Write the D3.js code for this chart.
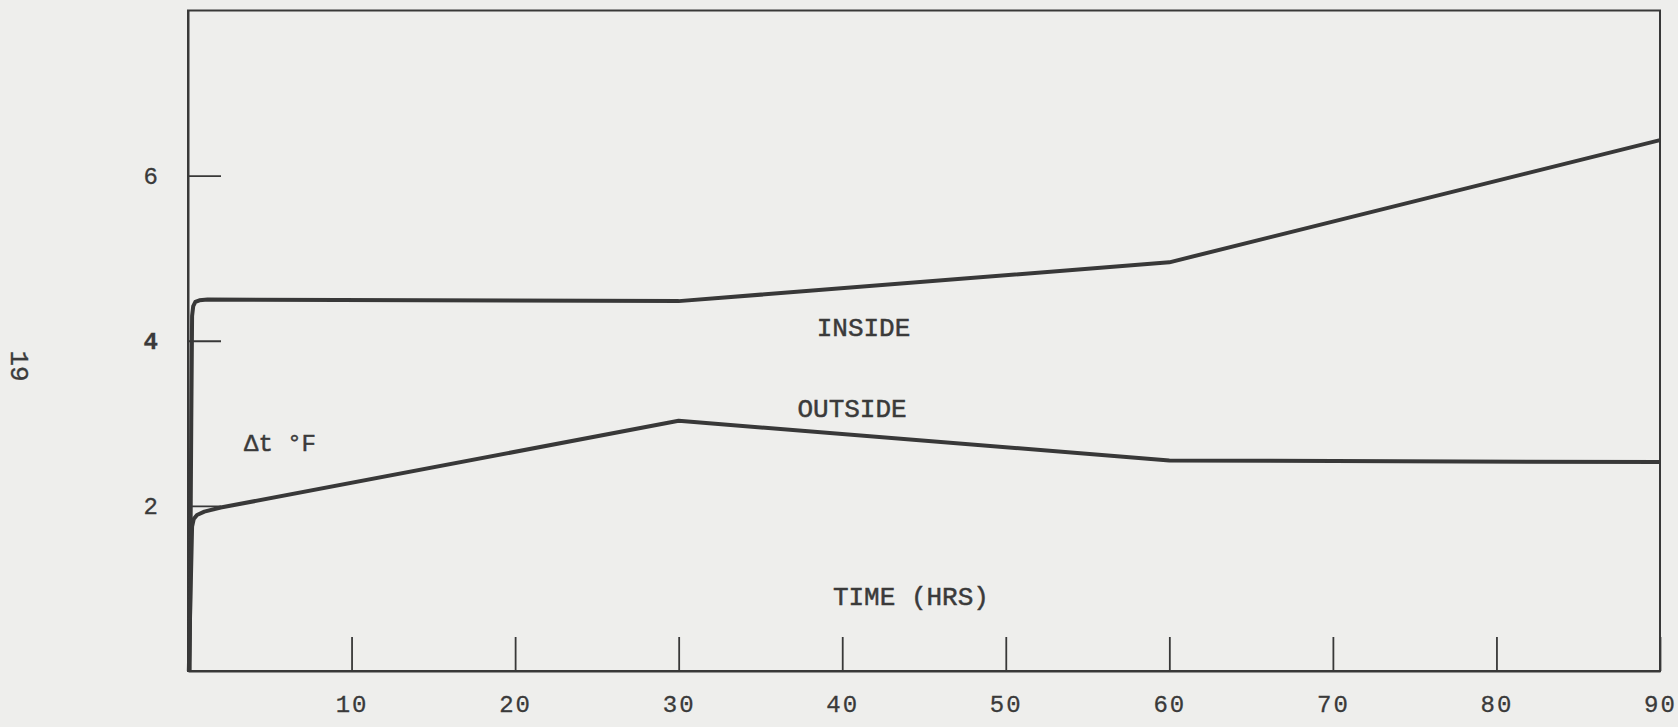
<!DOCTYPE html>
<html>
<head>
<meta charset="utf-8">
<script src="https://cdn.jsdelivr.net/npm/d3@7/dist/d3.min.js"></script>
<style>
  html, body { margin: 0; padding: 0; background: #eeeeec; }
  svg { display: block; }
  text { fill: #3a3a3a; font-family: "Liberation Mono", "DejaVu Sans Mono", monospace; }
</style>
</head>
<body>
<svg id="chart" width="1678" height="727"></svg>
<script>
// Temperature difference (°F) against elapsed time (hours)
const insideTime  = [0.1, 0.2, 0.25, 0.32, 0.45, 0.7, 1.2, 30, 60, 90];
const insideDelta = [0, 3.0, 4.3, 4.42, 4.47, 4.49, 4.50, 4.48, 4.95, 6.43];

const outsideTime  = [0.05, 0.25, 0.35, 0.55, 1.0, 2, 30, 60, 90];
const outsideDelta = [0, 1.75, 1.84, 1.89, 1.93, 1.98, 3.03, 2.55, 2.53];

const xTicks = [10, 20, 30, 40, 50, 60, 70, 80, 90];
const yTicks = [2, 4, 6];

const svg = d3.select("#chart");
const ink = "#383838";

const x = d3.scaleLinear().domain([0, 90]).range([188, 1660]);
const y = d3.scaleLinear().domain([0, 8]).range([671, 10.5]);

// plot frame
svg.append("rect")
  .attr("x", x(0)).attr("y", y(8))
  .attr("width", x(90) - x(0)).attr("height", y(0) - y(8))
  .attr("fill", "none").attr("stroke", ink).attr("stroke-width", 2);

// bottom axis: ticks point up into the plot
const xAxis = svg.append("g")
  .attr("transform", `translate(0,${y(0)})`)
  .call(d3.axisBottom(x).tickValues(xTicks).tickSize(-34).tickSizeOuter(0)
    .tickPadding(24).tickFormat(d3.format("d")));
xAxis.select(".domain").attr("stroke", ink).attr("stroke-width", 2);
xAxis.selectAll(".tick line").attr("stroke", ink).attr("stroke-width", 1.8);
xAxis.selectAll(".tick text")
  .attr("font-size", 24).attr("font-family", "Liberation Mono, monospace").attr("fill", "#3a3a3a")
  .attr("stroke", "#3a3a3a").attr("stroke-width", 0.3)
  .attr("letter-spacing", 2);

// left axis: ticks point right into the plot
const yAxis = svg.append("g")
  .attr("transform", `translate(${x(0)},0)`)
  .call(d3.axisLeft(y).tickValues(yTicks).tickSize(-33).tickSizeOuter(0)
    .tickPadding(30).tickFormat(d3.format("d")));
yAxis.select(".domain").attr("stroke", ink).attr("stroke-width", 2);
yAxis.selectAll(".tick line").attr("stroke", ink).attr("stroke-width", 1.8);
yAxis.selectAll(".tick text")
  .attr("font-size", 24).attr("font-family", "Liberation Mono, monospace").attr("fill", "#3a3a3a")
  .attr("stroke", "#3a3a3a").attr("stroke-width", 0.3)
  .attr("font-weight", d => d === 4 ? "bold" : "normal");

// data curves
const line = d3.line().x(d => x(d[0])).y(d => y(d[1]));
const insidePts = insideTime.map((t, i) => [t, insideDelta[i]]);
const outsidePts = outsideTime.map((t, i) => [t, outsideDelta[i]]);

svg.append("path").datum(insidePts).attr("d", line)
  .attr("fill", "none").attr("stroke", ink).attr("stroke-width", 4).attr("stroke-linejoin", "round");
svg.append("path").datum(outsidePts).attr("d", line)
  .attr("fill", "none").attr("stroke", ink).attr("stroke-width", 4).attr("stroke-linejoin", "round");

// labels
const label = (txt, px, py, size, anchor) => svg.append("text")
  .attr("x", px).attr("y", py).attr("font-size", size)
  .attr("stroke", "#3a3a3a").attr("stroke-width", 0.5)
  .attr("text-anchor", anchor || "start").text(txt);

label("INSIDE", x(41.3), y(4.06), 26, "middle");
label("OUTSIDE", x(40.6), y(3.08), 26, "middle");
label("TIME (HRS)", x(44.2), y(0.8), 26, "middle");
label("\u0394t \u00B0F", 244, 451, 24);

svg.append("text")
  .attr("transform", "translate(11,366) rotate(90)")
  .attr("text-anchor", "middle")
  .attr("font-size", 26)
  .attr("stroke", "#3a3a3a").attr("stroke-width", 0.4)
  .text("19");
</script>
</body>
</html>
